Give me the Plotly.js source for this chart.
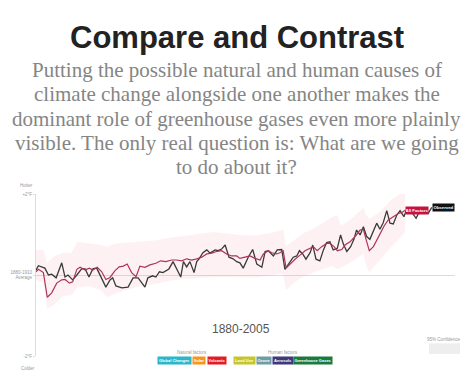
<!DOCTYPE html>
<html>
<head>
<meta charset="utf-8">
<script src="https://cdn.plot.ly/plotly-3.0.1.min.js"></script>
<style>html,body{margin:0;padding:0;background:#fff;}#chart{width:473px;height:383px;}</style>
</head>
<body>
<div id="chart"></div>
<script>
// ---- Data ----
const obsYears = [1880,1880.8,1883,1884.2,1885.3,1886.8,1888.7,1889.8,1890.8,1892.4,
  1893.8,1895.4,1896.6,1897.9,1899.2,1900.5,1901.9,1903.6,1905,1905.9,
  1907,1909,1911.1,1912.8,1914.5,1916.8,1917.8,1919.4,1920.5,1921.7,
  1922.9,1924.9,1926.3,1927.5,1928.9,1929.8,1930.9,1932,1933.4,1934.3,
  1935.1,1936.4,1937.7,1938.8,1940.5,1941.5,1942.7,1943.9,1945.2,1946.6,
  1947.8,1948.9,1950,1951.7,1953.2,1954.6,1956.3,1957.4,1958.5,1960.2,
  1961.5,1963,1964.1,1965.6,1966.9,1968.1,1969,1970.1,1971.2,1972.6,
  1973.5,1974.6,1975.9,1977.1,1978.2,1979.3,1980.4,1981.8,1982.9,1983.8,
  1985,1986.3,1987.4,1988.3,1989.5,1990.6,1991.7,1992.8,1994.2,1995.1,
  1996.2,1997.3,1998.5,1999.6,2000.7,2001.9,2003,2004.3,2005.2,2006.9,
  2008.4,2009.7,2010.8,2012.5,2013.7];
const obsTemps = [0.12,0.23,0.17,0.00,0.02,-0.07,0.30,-0.05,0.00,-0.12,
  0.00,0.15,0.15,-0.05,0.15,0.17,-0.04,-0.30,-0.12,-0.07,
  -0.27,-0.32,-0.30,-0.07,-0.07,-0.30,-0.07,-0.02,-0.05,0.08,
  0.06,0.15,0.33,0.15,-0.05,0.33,0.20,0.33,0.06,0.33,
  0.40,0.55,0.62,0.54,0.62,0.60,0.64,0.74,0.44,0.40,
  0.33,0.30,0.17,0.44,0.63,0.27,0.19,0.58,0.60,0.47,
  0.62,0.63,0.14,0.30,0.44,0.47,0.60,0.52,0.39,0.55,
  0.74,0.39,0.35,0.62,0.80,0.82,0.62,0.66,0.99,0.77,
  0.58,0.70,0.88,1.11,0.99,1.19,0.95,0.88,1.13,1.28,
  1.13,1.29,1.59,1.28,1.26,1.48,1.59,1.44,1.62,1.56,
  1.40,1.59,1.56,1.52,1.67];

const allYears = [1880,1880.8,1882.5,1883.8,1885.3,1887,1888.7,1889.8,1891.3,1892.4,
  1893.8,1894.9,1896.6,1898,1899.2,1900.7,1902.2,1903.6,1905,1906.7,
  1908.1,1909.5,1910.8,1912.3,1913.8,1915.1,1916.8,1918.5,1920.5,1922.1,
  1923.9,1925.8,1927.5,1929.2,1930.9,1932.6,1934.3,1936,1937.7,1939.4,
  1941,1942.7,1944.4,1946.1,1947.8,1948.9,1950.6,1952.3,1954,1955.7,
  1956.8,1958.5,1959.6,1961.3,1962.4,1963.5,1964.5,1965.8,1967.5,1969.2,
  1970.9,1972.6,1973.7,1975,1976.5,1978.2,1979.3,1980.7,1981.8,1983.3,
  1984.4,1986.1,1987.8,1989.5,1990.6,1991.5,1992.6,1994,1995.1,1996.5,
  1997.6,1999,2000.2,2001.3,2002.4,2003.5,2004.7];
const allTemps = [0.08,0.14,0.06,-0.55,-0.44,-0.20,-0.12,-0.11,-0.20,-0.17,
  0.14,0.19,0.12,0.17,0.12,0.19,0.08,-0.11,-0.06,0.11,
  0.20,0.22,0.27,0.06,-0.04,0.22,0.19,0.25,0.29,0.35,
  0.33,0.37,0.37,0.35,0.40,0.37,0.40,0.44,0.52,0.54,
  0.58,0.60,0.52,0.47,0.47,0.41,0.44,0.47,0.41,0.37,
  0.52,0.60,0.55,0.52,0.55,0.60,0.17,0.27,0.39,0.49,
  0.60,0.66,0.70,0.60,0.70,0.78,0.78,0.70,0.60,0.63,
  0.74,0.82,0.95,1.11,1.13,0.88,0.60,0.70,0.85,1.03,
  1.21,1.36,1.42,1.48,1.52,1.54,1.60];

const bandYears = [1880,1882.5,1883.8,1886,1889,1892,1894,1898,1902,1904,
  1907,1911,1915,1920,1925,1930,1935,1940,1945,1950,
  1955,1960,1963.5,1964.5,1967,1970,1975,1980,1981.8,1983,
  1986,1990.6,1991.5,1992.6,1996,2000,2004.7];
const bandHigh = [0.62,0.62,0.30,0.45,0.55,0.55,0.82,0.78,0.74,0.70,
  0.78,0.80,0.82,0.85,0.92,0.96,1.02,1.06,1.02,0.98,
  0.98,1.05,1.12,0.72,0.85,1.02,1.20,1.43,1.48,1.22,
  1.35,1.66,1.50,1.38,1.55,1.85,2.10];
const bandLow = [-0.12,-0.20,-0.82,-0.75,-0.52,-0.50,-0.30,-0.28,-0.38,-0.55,
  -0.45,-0.37,-0.28,-0.22,-0.14,-0.10,-0.08,-0.05,-0.05,-0.05,
  -0.06,0.00,0.03,-0.37,-0.20,-0.05,0.10,0.22,0.15,0.18,
  0.30,0.52,0.25,0.07,0.35,0.70,1.05];

const yTickVals = [-2, 0, 2];
const yTickText = ["-2°F", "1880-1910<br>Average", "+2°F"];

const titleText = "Compare and Contrast";
const subtitleLines = [
  "Putting the possible natural and human causes of",
  "climate change alongside one another makes the",
  "dominant role of greenhouse gases even more plainly",
  "visible. The only real question is: What are we going",
  "to do about it?"
];
const naturalFactors = ["Global Changes", "Solar", "Volcanic"];
const humanFactors = ["Land Use", "Ozone", "Aerosols", "Greenhouse Gases"];

// ---- Geometry helpers (pixel -> paper) ----
const L = 36, R = 455, T = 194, B = 356;
const px = x => (x - L) / (R - L);
const py = y => (B - y) / (B - T);

const annotations = [];
annotations.push({text: "<b>" + titleText + "</b>", xref: "paper", yref: "paper",
  x: px(236.5), y: py(37.5), xanchor: "center", yanchor: "middle", showarrow: false,
  font: {family: "Liberation Sans, Arial, sans-serif", size: 31, color: "#222"}});
const subY = [70, 94.5, 119, 143, 167];
subtitleLines.forEach((t, i) => annotations.push({text: t, xref: "paper", yref: "paper",
  x: px(236.5), y: py(subY[i]), xanchor: "center", yanchor: "middle", showarrow: false,
  font: {family: "Liberation Serif, Times New Roman, serif", size: 21, color: "#858585"}}));

const small = {family: "Liberation Sans, Arial, sans-serif", size: 4.5, color: "#999"};
annotations.push({text: "Hotter", xref: "paper", yref: "paper", x: px(35), y: py(185),
  xanchor: "right", yanchor: "middle", showarrow: false, font: small});
annotations.push({text: "Colder", xref: "paper", yref: "paper", x: px(37), y: py(368),
  xanchor: "right", yanchor: "middle", showarrow: false, font: small});
annotations.push({text: "1880-2005", xref: "paper", yref: "paper", x: px(240.5), y: py(329),
  xanchor: "center", yanchor: "middle", showarrow: false,
  font: {family: "Liberation Sans, Arial, sans-serif", size: 12, color: "#555"}});
annotations.push({text: "Natural factors", xref: "paper", yref: "paper", x: px(192), y: py(352.5),
  xanchor: "center", yanchor: "middle", showarrow: false, font: small});
annotations.push({text: "Human factors", xref: "paper", yref: "paper", x: px(283), y: py(352.5),
  xanchor: "center", yanchor: "middle", showarrow: false, font: small});
annotations.push({text: "95% Confidence", xref: "paper", yref: "paper", x: px(444), y: py(339),
  xanchor: "center", yanchor: "middle", showarrow: false, font: small});

// legend buttons
const btnColors = ["#2bb6c9", "#f5961f", "#e31b23", "#c4c62b", "#6d9ea3", "#3c3a7e", "#1c7a3f"];
const btnLeft = [156.7, 192.3, 206.7, 233.3, 255.7, 272, 293.3];
const btnWidth = [33, 12, 18, 21, 14, 20, 38];
naturalFactors.concat(humanFactors).forEach((t, i) => annotations.push({
  text: "<b>" + t + "</b>", xref: "paper", yref: "paper", x: px(btnLeft[i]), y: py(360.7),
  xanchor: "left", yanchor: "middle", showarrow: false, width: btnWidth[i], height: 7,
  borderpad: 0, bgcolor: btnColors[i],
  font: {family: "Liberation Sans, Arial, sans-serif", size: 4, color: "#fff"}}));

// end labels
annotations.push({text: "<b>All Factors</b>", xref: "x", yref: "y",
  x: allYears[allYears.length - 1], y: allTemps[allTemps.length - 1],
  xanchor: "left", yanchor: "middle", showarrow: false, width: 22, height: 7, borderpad: 0,
  bgcolor: "#c8123e", font: {family: "Liberation Sans, Arial, sans-serif", size: 4.3, color: "#fff"}});
annotations.push({text: "<b>Observed</b>", xref: "x", yref: "y",
  x: obsYears[obsYears.length - 1], y: obsTemps[obsTemps.length - 1],
  xanchor: "left", yanchor: "middle", showarrow: false, width: 21, height: 6.5, borderpad: 0,
  bgcolor: "#111", font: {family: "Liberation Sans, Arial, sans-serif", size: 4.3, color: "#fff"}});

const traces = [
  {x: bandYears, y: bandLow, type: "scatter", mode: "lines", line: {width: 0, color: "rgba(0,0,0,0)"},
   hoverinfo: "skip"},
  {x: bandYears, y: bandHigh, type: "scatter", mode: "lines", line: {width: 0, color: "rgba(0,0,0,0)"},
   fill: "tonexty", fillcolor: "rgba(232,120,150,0.10)", hoverinfo: "skip"},
  {x: obsYears, y: obsTemps, type: "scatter", mode: "lines", name: "Observed",
   line: {color: "#3a3a3a", width: 1.3}},
  {x: allYears, y: allTemps, type: "scatter", mode: "lines", name: "All Factors",
   line: {color: "#ad3358", width: 1.2}}
];

const layout = {
  width: 473, height: 383,
  margin: {l: L, r: 473 - R, t: T, b: 383 - B, pad: 0},
  paper_bgcolor: "#fff", plot_bgcolor: "#fff",
  showlegend: false,
  xaxis: {range: [1880, 1880 + (R - L) / 2.96], visible: false, fixedrange: true},
  yaxis: {range: [-2, 2], showgrid: false, zeroline: true, zerolinecolor: "#dcdcdc", zerolinewidth: 1,
    showline: true, linecolor: "#dcdcdc", linewidth: 1,
    tickvals: yTickVals, ticktext: yTickText, ticks: "outside", ticklen: 2, tickcolor: "#dcdcdc",
    tickfont: {family: "Liberation Sans, Arial, sans-serif", size: 4.5, color: "#999"}, fixedrange: true},
  shapes: [{type: "rect", xref: "paper", yref: "paper", x0: px(429), x1: px(460), y0: py(354), y1: py(343.3),
    fillcolor: "#eeeeee", line: {width: 0}}],
  annotations: annotations
};

Plotly.newPlot("chart", traces, layout, {displayModeBar: false, staticPlot: true});
</script>
</body>
</html>
